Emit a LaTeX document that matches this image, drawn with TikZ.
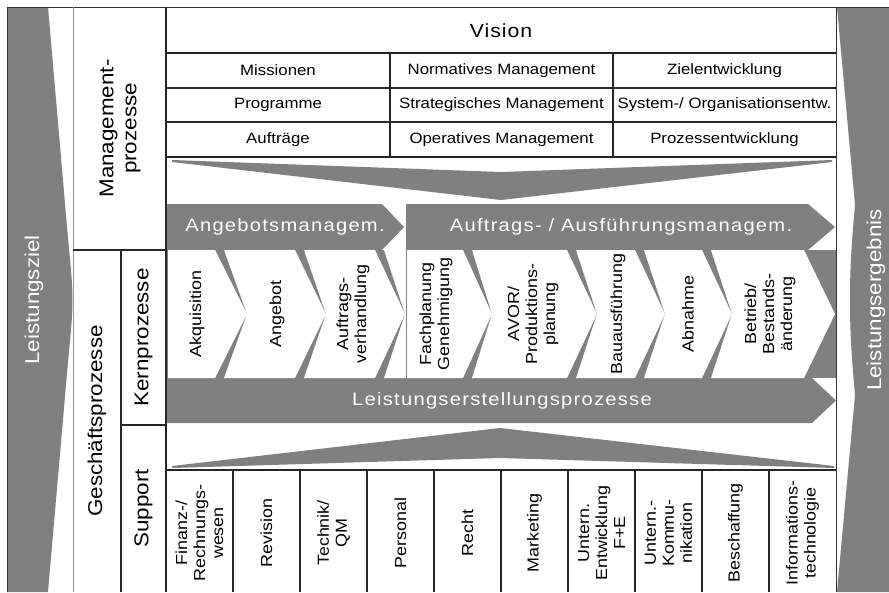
\documentclass[tikz,border=0pt]{standalone}
\usepackage{fontspec}
\setmainfont{Liberation Sans}[FakeStretch=1.12]

\tikzset {
  rule/.style = {
    draw = black!85,
    line width = 1.3pt
  },
  % thin frame lines
  hair rule/.style = {
    draw = black!80,
    line width = 0.8pt
  },
  faint rule/.style = {
    draw = black!40,
    line width = 0.7pt
  },
  shade/.style = {
    fill = black!50,
    draw = none
  },
  paper/.style = {
    fill = white,
    draw = none
  }
}
\tikzset {
  % text in the table cells
  cell/.style = {
    inner sep = 0,
    font = \fontsize{15}{17}\selectfont
  },
  head/.style = {
    cell,
    font = \fontsize{19}{21}\selectfont\addfontfeature{LetterSpace=5}
  },
  % vertical captions of the columns
  side/.style = {
    rotate = 90,
    align = center,
    inner sep = 0,
    font = \fontsize{20}{23}\selectfont
  },
  % captions of the single processes
  proc/.style = {
    rotate = 90,
    align = center,
    inner sep = 0,
    font = \fontsize{16}{18}\selectfont
  },
  % white text on the gray arrows
  band/.style = {
    inner sep = 0,
    text = white,
    font = \fontsize{18}{20}\selectfont\addfontfeature{LetterSpace=7}
  }
}

\begin{document}
\begin{tikzpicture}[x = 1pt, y = -1pt]
    \useasboundingbox (0,0) rectangle (889,592);

    % goal and result
    \path[shade] (7,7) -- (48,7) -- (66,215)
    .. controls (70,262) and (72.5,280) .. (72.5,300)
    .. controls (72.5,320) and (70,338) .. (66,385)
    -- (48,592) -- (7,592) -- cycle;
    \path[shade] (889,7) -- (837,7) -- (855,205)
    .. controls (851,250) and (850,270) .. (850,300)
    .. controls (850,330) and (851,350) .. (855,395)
    -- (837,592) -- (889,592) -- cycle;
    \node[side, text = white] at (34,300) (goal) {Leistungsziel};
    \node[side, text = white] at (876,300) (result) {Leistungsergebnis};

    % wedges
    \path[shade] (172,160) -- (501,172) -- (832,160) -- (832,162)
    -- (501,200) -- (172,162) -- cycle;
    \path[shade] (172,466) -- (500,428) -- (834,466) -- (834,468)
    -- (500,458) -- (172,468) -- cycle;

    % arrows and chevrons
    \path[shade] (167,250) rectangle (836,378);
    \path[shade] (167,204) -- (382,204) -- (404,227) -- (382,250)
    -- (167,250) -- cycle;
    \path[shade] (406,204) -- (808,204) -- (835,227) -- (808,250)
    -- (406,250) -- cycle;
    \path[shade] (167,378) -- (812,378) -- (836,400.5) -- (812,423)
    -- (167,423) -- cycle;
    \path[paper] (168,250) -- (215,250) -- (247,314) -- (215,378)
    -- (168,378) -- cycle;
    \foreach \la/\lp/\ra/\rp in {224/247/295/326, 304/326/375/405,
      384/405/463/492, 472/492/567/597, 576/597/635/665,
      644/665/702/732, 711/732/804/835}
    \path[paper] (\la,250) -- (\ra,250) -- (\rp,314) -- (\ra,378)
    -- (\la,378) -- (\lp,314) -- cycle;
    \draw[black!50, line width = 1pt] (406,250) -- (406,378);

    \node[band] at (285,227) (offer) {Angebotsmanagem.};
    \node[band] at (621,227) (order) {Auftrags- / Ausführungsmanagem.};
    \node[band] at (502,401) (perform) {Leistungserstellungsprozesse};

    \foreach \x/\txt [count = \i] in {197/Akquisition, 277/Angebot,
      353/{Auftrags-\\verhandlung}, 436/{Fachplanung\\Genehmigung},
      533/{AVOR/\\Produktions-\\planung}, 618/Bauausführung,
      688/Abnahme, 770/{Betrieb/\\Bestands-\\änderung}}
    \node[proc] at (\x,314) (proc-\i) {\txt};

    % frame
    \draw[hair rule] (7,592) -- (7,7) -- (889,7);
    \draw[faint rule] (73,7) -- (73,592);
    \draw[rule] (166,7) -- (166,592);
    \draw[hair rule] (836,7) -- (836,592);
    \draw[rule] (73,250) -- (166,250);
    \draw[rule] (121,250) -- (121,592);
    \draw[rule] (121,425) -- (166,425);

    \node[side] at (120,128.5) (mgmt) {Management-\\prozesse};
    \node[side] at (97,421) (business) {Geschäftsprozesse};
    \node[side] at (143.5,337.5) (core) {Kernprozesse};
    \node[side] at (143.5,508.5) (support) {Support};

    % management table
    \foreach \y in {53,88,122,157}
    \draw[rule] (166,\y) -- (836,\y);
    \foreach \x in {390,613}
    \draw[rule] (\x,53) -- (\x,157);

    \node[head] at (501,31) (vision) {Vision};
    \node[cell] at (278,70.5) (mission) {Missionen};
    \node[cell] at (501.5,70.5) (normative) {Normatives Management};
    \node[cell] at (724.5,70.5) (goals) {Zielentwicklung};
    \node[cell] at (278,105) (program) {Programme};
    \node[cell] at (501.5,105) (strategic) {Strategisches Management};
    \node[cell] at (724.5,105) (system) {System-/ Organisationsentw.};
    \node[cell] at (278,139.5) (orders) {Aufträge};
    \node[cell] at (501.5,139.5) (operative) {Operatives Management};
    \node[cell] at (724.5,139.5) (process) {Prozessentwicklung};

    % support table
    \draw[rule, line width = 1.8pt] (166,470) -- (836,470);
    \foreach \k in {1,...,9}
    \draw[rule] (166+67*\k,470) -- (166+67*\k,592);
    \foreach \txt [count = \i from 0] in {Finanz-/\\Rechnungs-\\wesen,
      Revision, Technik/\\QM, Personal, Recht, Marketing,
      Untern.\\Entwicklung\\F+E, Untern.-\\Kommu-\\nikation,
      Beschaffung, Informations-\\technologie}
    \node[proc] at (199.5+67*\i,533) (sup-\i) {\txt};
\end{tikzpicture}
\end{document}
